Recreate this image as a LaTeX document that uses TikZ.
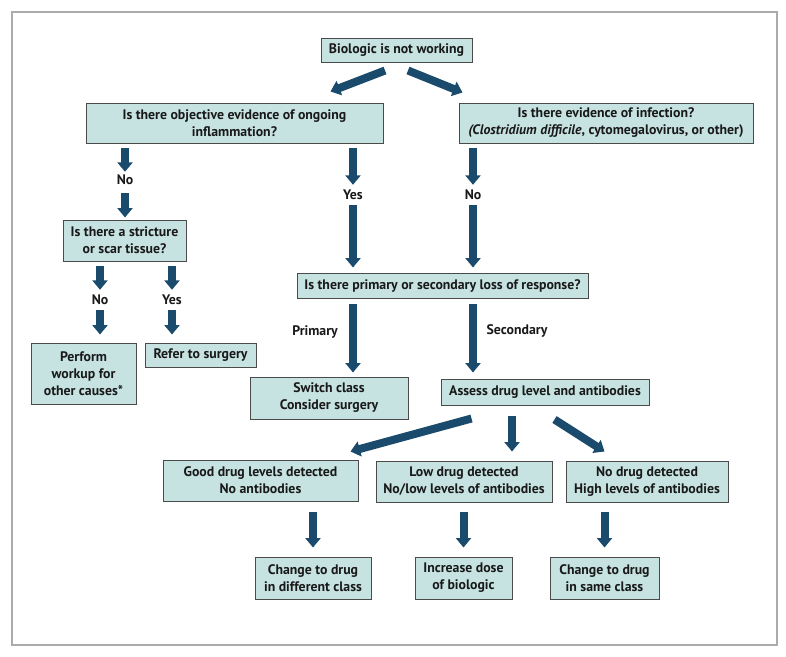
\documentclass[tikz,border=0pt]{standalone}
\usepackage{fontspec}
\setmainfont{PT Sans}
\usetikzlibrary{arrows.meta}
\definecolor{arrowblue}{HTML}{1A4A6C}
\definecolor{boxfill}{HTML}{C6E3E2}
\definecolor{boxline}{HTML}{4A4A4A}
\definecolor{frameline}{HTML}{ABABAB}
\tikzset{
  box/.style={draw=boxline, line width=1pt, fill=boxfill, inner sep=0pt, align=center,
    font=\bfseries\fontsize{13.8}{17}\selectfont, text=black!90},
  lbl/.style={inner sep=0pt, minimum height=12pt, font=\bfseries\fontsize{13.8}{17}\selectfont, text=black!90},
  fat/.style={draw=arrowblue, line width=8pt, -{Triangle[width=15pt,length=9.5pt]}}
}
\begin{document}
\begin{tikzpicture}[x=1pt,y=-1pt]
\useasboundingbox (0,0) rectangle (786,656);
\fill[white] (0,0) rectangle (786,656);
\draw[frameline, line width=1.1pt] (12,12) rectangle (777,645);

% boxes
\node[box, minimum width=151pt, minimum height=24pt] (top) at (396.5,50) {Biologic is not working};
\node[box, minimum width=297pt, minimum height=40pt] (infl) at (234.5,123) {Is there objective evidence of ongoing\\inflammation?};
\node[box, minimum width=294pt, minimum height=40pt] (infe) at (606,123) {Is there evidence of infection?\\\textit{(Clostridium difficile}, cytomegalovirus, or other)};
\node[box, minimum width=123pt, minimum height=41pt] (strict) at (124.5,240.5) {Is there a stricture\\or scar tissue?};
\node[box, minimum width=105pt, minimum height=61pt] (perform) at (83.5,373.5) {Perform\\workup for\\other causes*};
\node[box, minimum width=111pt, minimum height=24pt] (refer) at (200.5,355) {Refer to surgery};
\node[box, minimum width=291pt, minimum height=25pt] (loss) at (442.5,285.5) {Is there primary or secondary loss of response?};
\node[box, minimum width=158pt, minimum height=42pt] (switch) at (329,398) {Switch class\\Consider surgery};
\node[box, minimum width=208pt, minimum height=26pt] (assess) at (545,392) {Assess drug level and antibodies};
\node[box, minimum width=195pt, minimum height=41pt] (good) at (260.5,480.5) {Good drug levels detected\\No antibodies};
\node[box, minimum width=176pt, minimum height=41pt] (low) at (464,481.5) {Low drug detected\\No/low levels of antibodies};
\node[box, minimum width=162pt, minimum height=41pt] (nod) at (647,481.5) {No drug detected\\High levels of antibodies};
\node[box, minimum width=116pt, minimum height=42pt] (ch1) at (313,578) {Change to drug\\in different class};
\node[box, minimum width=97pt, minimum height=42pt] (inc) at (463.5,578) {Increase dose\\of biologic};
\node[box, minimum width=109pt, minimum height=42pt] (ch2) at (604.5,578) {Change to drug\\in same class};

% labels
\node[lbl] (noA) at (125,180) {No};
\node[lbl] (noB) at (100,300) {No};
\node[lbl] (yesB) at (172,300) {Yes};
\node[lbl] (yesA) at (353,195) {Yes};
\node[lbl] (noC) at (473,195) {No};
\node[lbl] (prim) at (315,332) {Primary};
\node[lbl] (sec) at (517,331) {Secondary};

% arrows
\draw[fat] ([shift={(-11.5,8)}]top.south) -- ([shift={(-53,-11)}]infl.north east);
\draw[fat] ([shift={(11.5,8)}]top.south) -- ([shift={(4,-10)}]infe.north west);

\draw[fat, shorten <=4pt, shorten >=2pt] (infl.south -| noA) -- (noA.north);
\draw[fat, shorten <=7pt, shorten >=2pt] (noA.south) -- (strict.north -| noA);

\draw[fat, shorten <=4pt, shorten >=4pt] (strict.south -| noB) -- (noB.north);
\draw[fat, shorten <=4pt, shorten >=8pt] (noB.south) -- (perform.north -| noB);
\draw[fat, shorten <=4pt, shorten >=4pt] (strict.south -| yesB) -- (yesB.north);
\draw[fat, shorten <=4pt, shorten >=8pt] (yesB.south) -- (refer.north -| yesB);

\draw[fat, shorten <=4pt, shorten >=4pt] (infl.south -| yesA) -- (yesA.north);
\draw[fat, shorten <=4pt, shorten >=5pt] (yesA.south) -- (loss.north -| yesA);
\draw[fat, shorten <=4pt, shorten >=4pt] (infe.south -| noC) -- (noC.north);
\draw[fat, shorten <=4pt, shorten >=5pt] (noC.south) -- (loss.north -| noC);

\draw[fat, shorten <=5pt, shorten >=4pt] (loss.south -| yesA) -- (switch.north -| yesA);
\draw[fat, shorten <=5pt, shorten >=6pt] (loss.south -| noC) -- (assess.north -| noC);

\draw[fat] ([shift={(31,13)}]assess.south west) -- ([shift={(-8,-8)}]good.north east);
\draw[fat, shorten <=10pt, shorten >=9pt] (assess.south -| 512,0) -- (low.north -| 512,0);
\draw[fat] ([shift={(114,14)}]assess.south west) -- ([shift={(39,-9)}]nod.north west);

\draw[fat, shorten <=10pt, shorten >=9pt] (good.south -| ch1) -- (ch1.north);
\draw[fat, shorten <=9pt, shorten >=9pt] (low.south -| inc) -- (inc.north);
\draw[fat, shorten <=9pt, shorten >=9pt] (nod.south -| ch2) -- (ch2.north);
\end{tikzpicture}
\end{document}
